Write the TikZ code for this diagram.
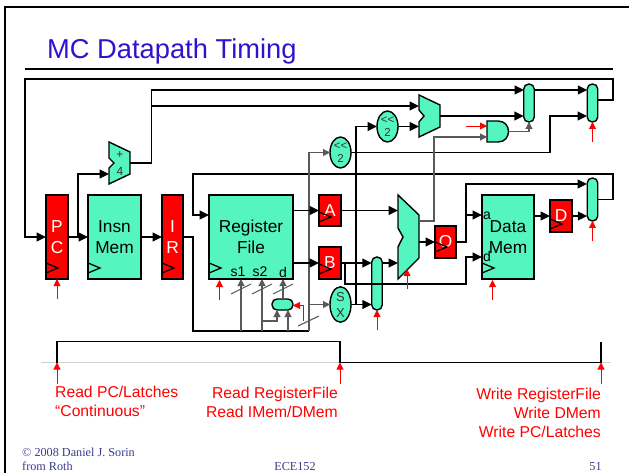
\documentclass[tikz,border=0pt]{standalone}
\usepackage{fontspec}
\setmainfont{Liberation Sans}
\newfontfamily\footfont{Liberation Serif}
\usetikzlibrary{arrows.meta,shapes.geometric,calc}

\definecolor{unitteal}{RGB}{85,245,192}
\definecolor{titleblue}{RGB}{51,17,204}
\definecolor{footblue}{RGB}{60,60,140}

\tikzset{
	wire/.style={line width=1.7pt, draw=black},
	thinwire/.style={line width=1.1pt, draw=black!65},
	tip/.style={-{Triangle[length=9.5pt, width=9pt]}},
	smalltip/.style={-{Triangle[length=7pt, width=7pt]}},
	ctl/.style={line width=0.9pt, draw=red, {Triangle[length=7pt, width=7pt]}-},
	unitline/.style={line width=1.4pt, draw=black, fill=unitteal},
	unitbox/.style={shape=rectangle, unitline, inner sep=0pt, outer sep=0pt, align=center,
		font=\fontsize{17.3}{20.7}\selectfont},
	regbox/.style={unitbox, fill=red, text=white},
	muxbox/.style={shape=rectangle, unitline, rounded corners=5pt, inner sep=0pt, outer sep=0pt, minimum width=10.5pt},
	oval/.style={shape=ellipse, unitline, inner sep=0pt, outer sep=0pt, minimum width=21pt, minimum height=31pt,
		align=center, text=black!80, font=\fontsize{11.5}{13}\selectfont},
	port/.style={inner sep=0pt, font=\fontsize{14}{14}\selectfont},
	small/.style={inner sep=0pt, text=black!80, font=\fontsize{12}{12}\selectfont},
	clk/.style={line width=1.3pt, draw=black},
	note/.style={inner sep=0pt, text=red, font=\fontsize{15.7}{19.3}\selectfont},
	foot/.style={inner sep=0pt, text=footblue, font=\footfont\fontsize{12.2}{15}\selectfont},
}

\begin{document}
\begin{tikzpicture}[x=1pt, y=-1pt]
	\useasboundingbox (0,0) rectangle (629,473);

	% frame and title
	\draw[line width=2.5pt] (5,473) -- (5,7) -- (629,7);
	\draw[line width=1.5pt] (25,69) -- (613,69);
	\node[anchor=base west, inner sep=0pt, text=titleblue, font=\fontsize{27.3}{30}\selectfont] (title) at (47,59) {MC Datapath Timing};

	% latches and memories
	\node[regbox, minimum width=22pt, minimum height=84pt] (PC) at (57,237) {P\\C};
	\node[unitbox, minimum width=53pt, minimum height=84pt] (Insn) at (114.5,237) {Insn\\Mem};
	\node[regbox, minimum width=21pt, minimum height=84pt] (IR) at (172.5,237) {I\\R};
	\node[unitbox, minimum width=84pt, minimum height=84pt] (RF) at (251,237) {Register\\File};
	\node[regbox, minimum width=22pt, minimum height=31pt] (A) at (330,210.5) {A};
	\node[regbox, minimum width=22pt, minimum height=32pt] (B) at (330,263) {B};
	\node[regbox, minimum width=21pt, minimum height=32pt] (O) at (445.5,242) {O};
	\node[unitbox, minimum width=52pt, minimum height=84pt] (DM) at (508,237) {Data\\Mem};
	\node[regbox, minimum width=22pt, minimum height=32pt] (D) at (561,216) {D};

	\node[port] (s1) at (238,272) {s1};
	\node[port] (s2) at (260,272) {s2};
	\node[port] (d) at (283,272) {d};
	\node[port] (dma) at (487,216) {a};
	\node[port] (dmd) at (487,256) {d};

	% adders and alu
	\draw[unitline] (109,142) -- (130,152) -- (130,174) -- (109,184) -- (109,168) -- (114,163) -- (109,158) -- cycle;
	\draw[unitline] (419,95) -- (440,105) -- (440,127) -- (419,137) -- (419,122) -- (424,116) -- (419,110) -- cycle;
	\draw[unitline] (398,195) -- (419,215) -- (419,258) -- (398,279) -- (398,247) -- (403,237) -- (398,228) -- cycle;
	\node[small] (plus) at (120,155) {+};
	\node[small] (four) at (120,171) {4};

	% and gate
	\draw[unitline] (487,121) -- (498,121) .. controls (512,121) and (512,142) .. (498,142) -- (487,142) -- cycle;

	\node[oval] (SLa) at (387.5,126.5) {<{}<\\2};
	\node[oval] (SLb) at (340.5,152.5) {<{}<\\2};
	\node[oval, font=\fontsize{13}{16}\selectfont] (SX) at (340.5,304.5) {S\\X};

	\node[muxbox, minimum height=38pt] (muxA) at (529,103) {};
	\node[muxbox, minimum height=38pt] (muxB) at (592.5,103) {};
	\node[muxbox, minimum height=43pt] (muxC) at (592.5,199.5) {};
	\node[muxbox, minimum height=53pt] (muxD) at (377,283.5) {};
	\node[muxbox, minimum width=21pt, minimum height=11pt] (muxR) at (282.5,304.5) {};

	% clock marks
	\foreach \n/\d in {PC/16, Insn/16, IR/16, RF/16, A/14, B/15, O/16, D/13, DM/16}
		\draw[clk] ($(\n.south west)+(0,-\d)$) -- ++(12,5) -- ++(-12,5);

	% ports
	\coordinate (pcLoop) at (25,79);
	\coordinate (pcT) at (78,237);
	\coordinate (apB) at (109,174);
	\coordinate (apO) at (130,163);
	\coordinate (mA1) at (524,90);
	\coordinate (tapP) at (151.5,106);
	\coordinate (adA) at (419,106);
	\coordinate (adB) at (419,126.5);
	\coordinate (adO) at (440,116);
	\coordinate (mB2) at (587,116);
	\coordinate (mBo) at (598,100);
	\coordinate (irT) at (193,237);
	\coordinate (busL) at (193,331);
	\coordinate (busR) at (309,331);
	\coordinate (wbT) at (193,174);
	\coordinate (rfW) at (209,215);
	\coordinate (rfS1) at (241,279);
	\coordinate (rfS2) at (262,279);
	\coordinate (rfD) at (283,279);
	\coordinate (mrT) at (262,321);
	\coordinate (mrI1) at (277,310);
	\coordinate (mrI2) at (288,310);
	\coordinate (sxT) at (356,304.5);
	\coordinate (aluA) at (398,210.5);
	\coordinate (aluB) at (398,263);
	\coordinate (aluO) at (419,242);
	\coordinate (aluZ) at (419,221);
	\coordinate (andA) at (487,126);
	\coordinate (andB) at (487,137);
	\coordinate (andO) at (509,131.5);
	\coordinate (oT) at (466,242);
	\coordinate (mC1) at (587,184);
	\coordinate (dmA) at (482,215);
	\coordinate (dmB) at (482,257);
	\coordinate (bT) at (345,263);
	\coordinate (bD) at (466,284);

	% datapath
	\draw[wire, tip] (mBo) -- ++(15,0) |- (pcLoop) |- (PC.west);
	\path[wire, tip] (PC) edge (Insn);
	\draw[wire, tip] (pcT) |- (apB);
	\path[wire, tip] (Insn) edge (IR);
	\draw[wire, tip] (apO) -- ++(21.5,0) |- (mA1);
	\draw[wire, tip] (tapP) -- (adA);
	\draw[wire, tip] (mA1 -| muxA.east) -- (mA1 -| muxB.west);
	\draw[wire, tip] (adO) -- (adO -| muxA.west);
	\draw[wire, tip] (SLa) -- (adB);
	\draw[wire, tip] (SLb.east) -- ++(199,0) |- (mB2);
	\draw[wire] (IR) -- (irT) -- (busL) -- (busR);
	\draw[wire, tip] (muxC.east) -- ++(15.5,0) |- (wbT) |- (rfW);

	\draw[thinwire, smalltip] (busR) |- (SLb.west);
	\draw[thinwire, smalltip] (busR |- SX) -- (SX);
	\draw[thinwire, smalltip] (rfS1 |- busL) -- (rfS1);
	\draw[thinwire, smalltip] (rfS2 |- busL) -- (rfS2);
	\draw[thinwire, smalltip] (mrI2 |- busL) -- (mrI2);
	\draw[thinwire, smalltip] (mrT) -| (mrI1);
	\draw[thinwire, smalltip] (rfD |- muxR.north) -- (rfD);
	\draw[thinwire, smalltip] (aluZ) -- ++(15,0) |- (andB);
	\draw[thinwire, smalltip] (andO) -| (muxA.south);

	\draw[wire, tip] (RF.east |- A) -- (A);
	\draw[wire, tip] (RF.east |- B) -- (B);
	\draw[wire, tip] (A) -- (aluA);
	\draw[wire, tip] (B) -- (B -| muxD.west);
	\draw[wire, tip] (B -| muxD.east) -- (aluB);
	\draw[wire, tip] (SX) -- (SX -| muxD.west);
	\draw[wire, tip] (sxT) |- (SLa.west);
	\draw[wire, tip] (bT) |- (bD) |- (dmB);
	\draw[wire, tip] (aluO) -- (O);
	\draw[wire, tip] (O) -- (oT) |- (mC1);
	\draw[wire, tip] (oT |- dmA) -- (dmA);
	\draw[wire, tip] (DM.east |- D) -- (D);
	\draw[wire, tip] (D) -- (D -| muxC.west);

	% control
	\draw[ctl] (PC.south) -- ++(0,20);
	\draw[ctl] (219.5,280) -- ++(0,20);
	\draw[ctl] (407,269) -- ++(0,20);
	\draw[ctl] (492.5,280) -- ++(0,20);
	\draw[ctl] (muxB.south) -- ++(0,20);
	\draw[ctl] (muxC.south) -- ++(0,20);
	\draw[ctl] (muxD.south) -- ++(0,20);
	\draw[ctl] (andA) -- ++(-21,0);
	\draw[ctl] (muxR.east |- 0,305.5) -- ++(10,0) -- ++(0,15);

	% bus width marks
	\draw[thinwire] (231,294) -- (251,284);
	\draw[thinwire] (252,294) -- (272,284);
	\draw[thinwire] (273,294) -- (293,284);
	\draw[thinwire] (298,326) -- (319,316);

	% timing
	\coordinate (gL) at (41,362.5);
	\coordinate (gR) at (611,362.5);
	\coordinate (tA) at (57,362.5);
	\coordinate (tB) at (340,362.5);
	\coordinate (tC) at (601,362.5);
	\draw[line width=1.5pt, draw=black!18] (gL) -- (gR);
	\draw[wire] (tA) -- ++(0,-21) -| (tB) -- (tC) -- ++(0,-21);
	\draw[ctl] (tA) -- ++(0,21);
	\draw[ctl] (tB) -- ++(0,21);
	\draw[ctl] (tC) -- ++(0,21);

	\node[note, anchor=north west, align=left] (readA) at (55,386) {Read PC/Latches\\``Continuous''};
	\node[note, anchor=north east, align=right] (readB) at (338,387) {Read RegisterFile\\Read IMem/DMem};
	\node[note, anchor=north east, align=right] (writeC) at (601,387.5) {Write RegisterFile\\Write DMem\\Write PC/Latches};

	\node[foot, anchor=base west] (copy) at (22,456.5) {© 2008 Daniel J. Sorin};
	\node[foot, anchor=base west] (roth) at (22,470.5) {from Roth};
	\node[foot, anchor=base] (course) at (295,470.5) {ECE152};
	\node[foot, anchor=base] (page) at (595.5,470.5) {51};
\end{tikzpicture}
\end{document}
